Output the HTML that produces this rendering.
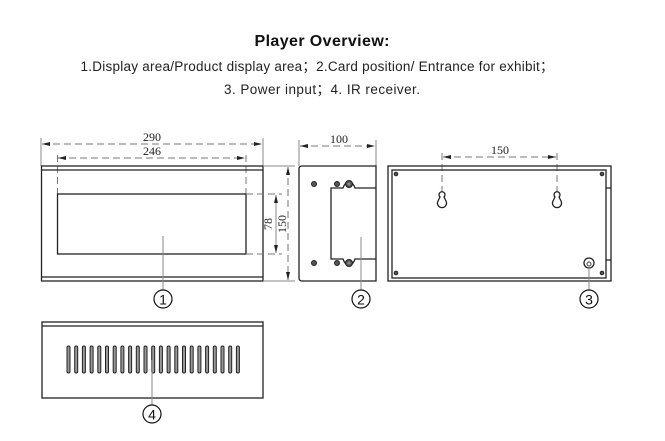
<!DOCTYPE html>
<html><head><meta charset="utf-8"><style>
html,body{margin:0;padding:0;background:#fff;}
svg{display:block;font-family:"Liberation Sans",Arial,sans-serif;}
.s{fill:none;stroke:#222;stroke-width:1.3}
.d{fill:none;stroke:#777;stroke-width:1;stroke-dasharray:7,4}
.g{fill:none;stroke:#888;stroke-width:1}
.dim{font-family:"Liberation Serif",serif;font-size:12px;fill:#222}
.dot{fill:#555;stroke:#222;stroke-width:1}
</style></head><body>
<svg width="665" height="441" viewBox="0 0 665 441">
<defs><marker id="a" markerWidth="8" markerHeight="6" refX="8" refY="3" orient="auto-start-reverse" markerUnits="userSpaceOnUse"><path d="M0,1 L8,3 L0,5z" fill="#222"/></marker></defs>
<text x="322" y="46" text-anchor="middle" font-size="16" font-weight="bold" fill="#111" textLength="135">Player Overview:</text>
<text x="317" y="71" text-anchor="middle" font-size="13.5" fill="#222" textLength="473">1.Display area/Product display area；2.Card position/ Entrance for exhibit；</text>
<text x="322" y="94" text-anchor="middle" font-size="13.5" fill="#222" textLength="196">3. Power input；4. IR receiver.</text>

<!-- front view -->
<line class="g" x1="41" y1="138" x2="41" y2="166"/>
<line class="g" x1="263" y1="138" x2="263" y2="166"/>
<line class="d" x1="42" y1="144" x2="262" y2="144" marker-start="url(#a)" marker-end="url(#a)"/>
<text class="dim" x="152" y="141" text-anchor="middle">290</text>
<line class="d" x1="57.5" y1="155" x2="57.5" y2="194"/>
<line class="d" x1="246" y1="155" x2="246" y2="194"/>
<line class="d" x1="58" y1="158" x2="245" y2="158" marker-start="url(#a)" marker-end="url(#a)"/>
<text class="dim" x="152" y="155" text-anchor="middle">246</text>
<rect class="s" x="41.5" y="166" width="221.5" height="115"/>
<line class="s" x1="41.5" y1="170" x2="263" y2="170"/>
<line class="s" x1="41.5" y1="277" x2="263" y2="277"/>
<rect class="s" x="57.5" y="194" width="188.5" height="60"/>
<line class="d" x1="246" y1="194" x2="282" y2="194"/>
<line class="d" x1="246" y1="254" x2="282" y2="254"/>
<line class="g" x1="263" y1="166" x2="295" y2="166"/>
<line class="g" x1="263" y1="281" x2="295" y2="281"/>
<line class="g" x1="276" y1="195" x2="276" y2="253" marker-start="url(#a)" marker-end="url(#a)"/>
<line class="d" x1="288" y1="167" x2="288" y2="280" marker-start="url(#a)" marker-end="url(#a)"/>
<text class="dim" transform="translate(272,224) rotate(-90)" text-anchor="middle">78</text>
<text class="dim" transform="translate(286,224) rotate(-90)" text-anchor="middle">150</text>
<line class="g" x1="163" y1="236" x2="163" y2="290"/>
<circle cx="163" cy="299" r="9" fill="none" stroke="#111" stroke-width="1.2"/>
<text x="163" y="304.5" text-anchor="middle" font-size="14" fill="#111">1</text>

<!-- side view -->
<line class="g" x1="299" y1="140" x2="299" y2="166"/>
<line class="g" x1="376" y1="140" x2="376" y2="166"/>
<line class="d" x1="300" y1="146" x2="375" y2="146" marker-start="url(#a)" marker-end="url(#a)"/>
<text class="dim" x="339" y="143" text-anchor="middle">100</text>
<path class="s" d="M302,166 H376 V281 H302 Q299,281 299,278 V169 Q299,166 302,166z"/>
<path class="s" d="M376,188 H355 Q353,182 349,182 Q345,182 343,188 H331 V259 H343 Q345,265 349,265 Q353,265 355,259 H376"/>
<circle class="dot" cx="314" cy="184" r="2.5"/><circle class="dot" cx="337" cy="184" r="2.5"/>
<circle class="dot" cx="349" cy="184" r="3.5"/><circle cx="349" cy="184" r="1.5" fill="#888"/>
<circle class="dot" cx="314" cy="263" r="2.5"/><circle class="dot" cx="337" cy="263" r="2.5"/>
<circle class="dot" cx="349" cy="263" r="3.5"/><circle cx="349" cy="263" r="1.5" fill="#888"/>
<line class="g" x1="361" y1="237" x2="361" y2="290"/>
<circle cx="361" cy="299" r="9" fill="none" stroke="#111" stroke-width="1.2"/>
<text x="361" y="304.5" text-anchor="middle" font-size="14" fill="#111">2</text>

<!-- back view -->
<line class="d" x1="443" y1="157" x2="556" y2="157" marker-start="url(#a)" marker-end="url(#a)"/>
<text class="dim" x="500" y="154" text-anchor="middle">150</text>
<line class="d" x1="442" y1="153" x2="442" y2="192"/>
<line class="d" x1="557" y1="153" x2="557" y2="192"/>
<rect class="s" x="388" y="166" width="223" height="115"/>
<rect class="s" x="392" y="170" width="214" height="108"/>
<line class="s" x1="606" y1="188" x2="611" y2="188"/>
<line class="s" x1="606" y1="260" x2="611" y2="260"/>
<circle class="dot" cx="396" cy="174" r="1.8"/><circle class="dot" cx="602" cy="174" r="1.8"/>
<circle class="dot" cx="396" cy="273" r="1.8"/><circle class="dot" cx="602" cy="273" r="1.8"/>
<path class="s" d="M440,197 A3,3 0 1 1 444,197 L446,201 A4.5,4.5 0 1 1 438,201z"/>
<path class="s" d="M555,197 A3,3 0 1 1 559,197 L561,201 A4.5,4.5 0 1 1 553,201z"/>
<circle cx="589" cy="263" r="5" fill="none" stroke="#222" stroke-width="1.3"/>
<circle cx="589" cy="264" r="2" fill="none" stroke="#444" stroke-width="1"/>
<line class="g" x1="589" y1="266" x2="589" y2="290"/>
<circle cx="589" cy="299" r="9" fill="none" stroke="#111" stroke-width="1.2"/>
<text x="589" y="304.5" text-anchor="middle" font-size="14" fill="#111">3</text>

<!-- bottom view -->
<rect class="s" x="42" y="322" width="221" height="76"/>
<line class="s" x1="42" y1="326" x2="263" y2="326"/>
<g fill="#999" stroke="#222" stroke-width="1">
<rect x="67" y="346" width="3" height="27" rx="1.5"/><rect x="74.7" y="346" width="3" height="27" rx="1.5"/><rect x="82.4" y="346" width="3" height="27" rx="1.5"/><rect x="90.1" y="346" width="3" height="27" rx="1.5"/><rect x="97.8" y="346" width="3" height="27" rx="1.5"/><rect x="105.5" y="346" width="3" height="27" rx="1.5"/><rect x="113.2" y="346" width="3" height="27" rx="1.5"/><rect x="120.9" y="346" width="3" height="27" rx="1.5"/><rect x="128.6" y="346" width="3" height="27" rx="1.5"/><rect x="136.3" y="346" width="3" height="27" rx="1.5"/><rect x="144" y="346" width="3" height="27" rx="1.5"/><rect x="151.7" y="346" width="3" height="27" rx="1.5"/><rect x="159.4" y="346" width="3" height="27" rx="1.5"/><rect x="167.1" y="346" width="3" height="27" rx="1.5"/><rect x="174.8" y="346" width="3" height="27" rx="1.5"/><rect x="182.5" y="346" width="3" height="27" rx="1.5"/><rect x="190.2" y="346" width="3" height="27" rx="1.5"/><rect x="197.9" y="346" width="3" height="27" rx="1.5"/><rect x="205.6" y="346" width="3" height="27" rx="1.5"/><rect x="213.3" y="346" width="3" height="27" rx="1.5"/><rect x="221" y="346" width="3" height="27" rx="1.5"/><rect x="228.7" y="346" width="3" height="27" rx="1.5"/><rect x="236.4" y="346" width="3" height="27" rx="1.5"/>
</g>
<line class="g" x1="152" y1="360" x2="152" y2="405"/>
<circle cx="152" cy="414" r="9" fill="none" stroke="#111" stroke-width="1.2"/>
<text x="152" y="419.5" text-anchor="middle" font-size="14" fill="#111">4</text>
</svg>
</body></html>
